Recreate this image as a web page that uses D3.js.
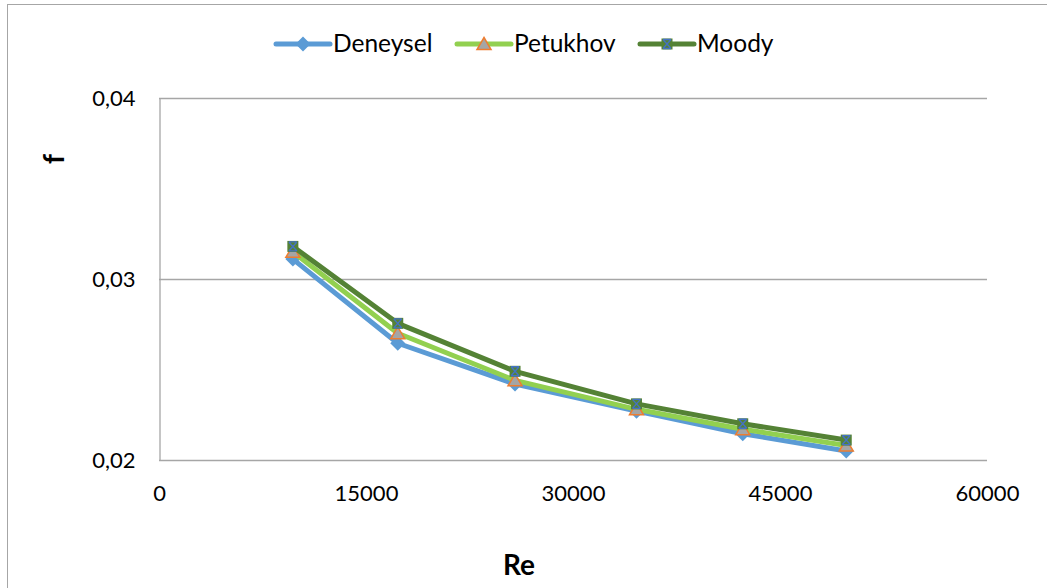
<!DOCTYPE html>
<html>
<head>
<meta charset="utf-8">
<script src="https://cdn.jsdelivr.net/npm/d3@7"></script>
<style>
  html, body { margin: 0; padding: 0; background: #fff; }
  svg { display: block; }
</style>
</head>
<body>
<svg id="chart" width="1047" height="588"></svg>
<script>
// Reynolds numbers for the six measurement points
const reynolds = [9700, 17300, 25800, 34600, 42300, 49800];

// Friction factor series
const deneysel = [0.0311, 0.02645, 0.0242, 0.0227, 0.02145, 0.0205];
const petukhov = [0.0315, 0.0270, 0.0244, 0.0228, 0.0217, 0.0208];
const moody    = [0.0318, 0.02755, 0.0249, 0.0231, 0.0220, 0.0211];

const xTicks = [0, 15000, 30000, 45000, 60000];
const yTicks = [0.02, 0.03, 0.04];

const seriesNames = ["Deneysel", "Petukhov", "Moody"];

const svg = d3.select("#chart");
const font = "Lato, 'Open Sans', sans-serif";

// chart frame
svg.append("rect")
  .attr("x", 7.5).attr("y", 4.5)
  .attr("width", 1100).attr("height", 700)
  .attr("fill", "none").attr("stroke", "#a6a6a6").attr("stroke-width", 1);

const plot = { left: 159, right: 987, top: 98, bottom: 460 };

const x = d3.scaleLinear().domain([0, 60000]).range([plot.left, plot.right]);
const y = d3.scaleLinear().domain([0.02, 0.04]).range([plot.bottom, plot.top]);

// horizontal gridlines
svg.append("g")
  .selectAll("line")
  .data(yTicks)
  .join("line")
  .attr("x1", plot.left).attr("x2", plot.right)
  .attr("y1", d => Math.round(y(d)) + 0.5).attr("y2", d => Math.round(y(d)) + 0.5)
  .attr("stroke", "#a6a6a6").attr("stroke-width", 1.3);

// y axis
const yAxis = svg.append("g")
  .attr("transform", `translate(${plot.left + 0.5},0)`)
  .call(d3.axisLeft(y).tickValues(yTicks).tickSize(0).tickPadding(24)
    .tickFormat(d => d3.format(".2f")(d).replace(".", ",")));
yAxis.select(".domain").attr("stroke", "#a6a6a6").attr("stroke-width", 1.3);
yAxis.selectAll("text").attr("font-family", font).attr("font-size", 22).attr("fill", "#000");

// x axis (labels only, line drawn by the 0.02 gridline)
const xAxis = svg.append("g")
  .attr("transform", `translate(0,${plot.bottom})`)
  .call(d3.axisBottom(x).tickValues(xTicks).tickSize(0).tickPadding(25)
    .tickFormat(d3.format("d")));
xAxis.select(".domain").remove();
xAxis.selectAll("text").attr("font-family", font).attr("font-size", 22).attr("fill", "#000");

// axis titles
svg.append("text")
  .attr("x", 519).attr("y", 575)
  .attr("text-anchor", "middle")
  .attr("font-family", font).attr("font-size", 28).attr("font-weight", "bold")
  .text("Re");

svg.append("text")
  .attr("transform", "translate(64,159) rotate(-90)")
  .attr("text-anchor", "middle")
  .attr("font-family", font).attr("font-size", 28).attr("font-weight", "bold")
  .text("f");

const line = d3.line().x(d => x(d[0])).y(d => y(d[1]));

const styles = [
  { values: deneysel, color: "#5b9bd5", marker: "diamond" },
  { values: petukhov, color: "#92d050", marker: "triangle" },
  { values: moody,    color: "#548235", marker: "square" }
];

function drawMarker(g, type, cx, cy) {
  if (type === "diamond") {
    g.append("path")
      .attr("d", `M${cx},${cy - 7.5}L${cx + 7.5},${cy}L${cx},${cy + 7.5}L${cx - 7.5},${cy}Z`)
      .attr("fill", "#5b9bd5");
  } else if (type === "triangle") {
    g.append("path")
      .attr("d", `M${cx},${cy - 6.5}L${cx + 7},${cy + 5.5}L${cx - 7},${cy + 5.5}Z`)
      .attr("fill", "#a5a5a5").attr("stroke", "#ed7d31").attr("stroke-width", 1.5);
  } else {
    g.append("rect")
      .attr("x", cx - 5.5).attr("y", cy - 5.5).attr("width", 11).attr("height", 11)
      .attr("fill", "#548235");
    g.append("path")
      .attr("d", `M${cx - 4},${cy - 4.5}L${cx + 4},${cy + 4.5}M${cx + 4},${cy - 4.5}L${cx - 4},${cy + 4.5}M${cx - 4},${cy - 4.5}H${cx + 4}M${cx - 4},${cy + 4.5}H${cx + 4}`)
      .attr("stroke", "#4472c4").attr("stroke-width", 1.4).attr("fill", "none");
  }
}

styles.forEach(s => {
  const pts = reynolds.map((r, i) => [r, s.values[i]]);
  const g = svg.append("g");
  g.append("path")
    .datum(pts)
    .attr("d", line)
    .attr("fill", "none")
    .attr("stroke", s.color)
    .attr("stroke-width", 5)
    .attr("stroke-linejoin", "round")
    .attr("stroke-linecap", "round");
  pts.forEach(p => drawMarker(g, s.marker, x(p[0]), y(p[1])));
});

// legend
const legendX = [276, 457, 640];
styles.forEach((s, i) => {
  const g = svg.append("g");
  const lx = legendX[i], ly = 44;
  g.append("line")
    .attr("x1", lx).attr("x2", lx + 54).attr("y1", ly).attr("y2", ly)
    .attr("stroke", s.color).attr("stroke-width", 5).attr("stroke-linecap", "round");
  drawMarker(g, s.marker, lx + 27, ly);
  g.append("text")
    .attr("x", lx + 57).attr("y", ly + 8)
    .attr("font-family", font).attr("font-size", 24.5)
    .attr("fill", "#000")
    .text(seriesNames[i]);
});
</script>
</body>
</html>
